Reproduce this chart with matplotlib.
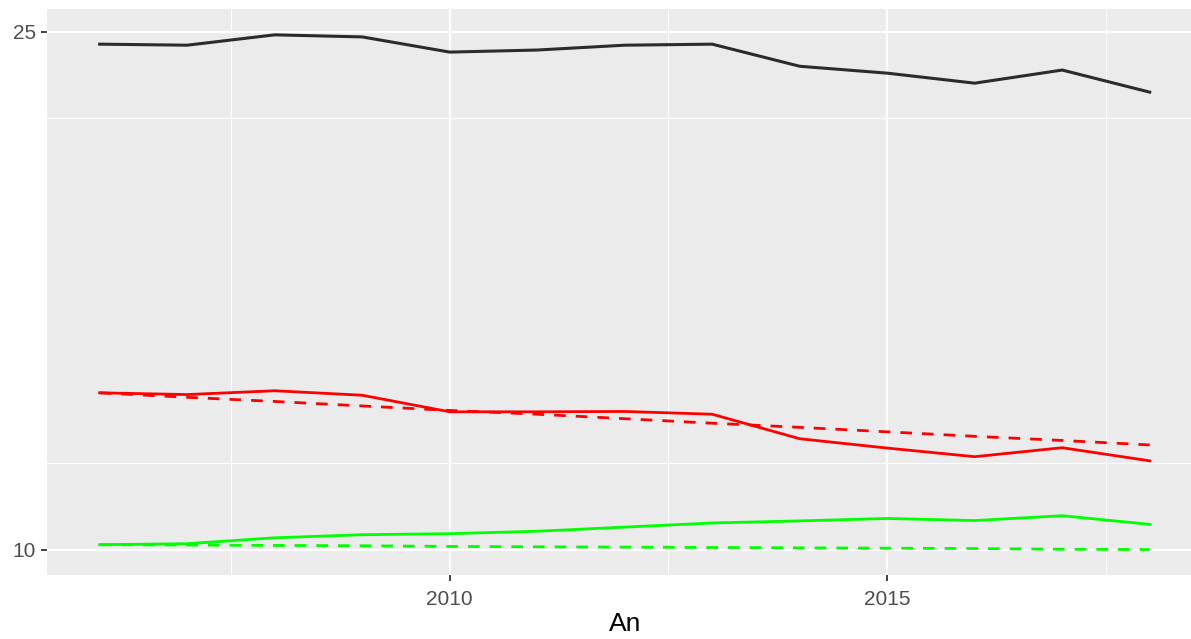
import matplotlib.pyplot as plt

# données
annees = list(range(2006, 2019))
noir = [24.64, 24.61, 24.91, 24.85, 24.41, 24.47, 24.61, 24.64, 24.00, 23.80, 23.51, 23.89, 23.25]
rouge = [14.54, 14.49, 14.60, 14.47, 13.99, 13.99, 14.00, 13.92, 13.21, 12.94, 12.69, 12.95, 12.57]
rouge_tendance = [14.54, 14.41, 14.29, 14.16, 14.03, 13.92, 13.79, 13.66, 13.54, 13.41, 13.28, 13.16, 13.03]
vert = [10.14, 10.17, 10.34, 10.43, 10.46, 10.53, 10.65, 10.77, 10.83, 10.90, 10.84, 10.98, 10.73]
vert_tendance = [10.14, 10.13, 10.12, 10.11, 10.09, 10.08, 10.07, 10.06, 10.05, 10.04, 10.03, 10.01, 10.00]

x_ticks = [2010, 2015]
x_minor = [2007.5, 2012.5, 2017.5]
y_ticks = [10, 25]
y_minor = [12.5, 22.5]

plt.rcParams['font.family'] = ['Liberation Sans', 'DejaVu Sans']

fig = plt.figure(figsize=(11.91, 6.39), dpi=100)
ax = fig.add_axes([0.0396, 0.100, 0.9698, 0.886])
ax.set_facecolor('#EBEBEB')
for s in ax.spines.values():
    s.set_visible(False)

# grille façon ggplot
for v in x_minor:
    ax.axvline(v, color='white', lw=0.8, zorder=0)
for v in y_minor:
    ax.axhline(v, color='white', lw=0.8, zorder=0)
for v in x_ticks:
    ax.axvline(v, color='white', lw=1.6, zorder=0)
for v in y_ticks:
    ax.axhline(v, color='white', lw=1.6, zorder=0)

ax.plot(annees, noir, color='#2b2b2b', lw=2.2)
ax.plot(annees, rouge, color='#FF0000', lw=2.0)
ax.plot(annees, rouge_tendance, color='#FF0000', lw=2.0, ls=(0, (4.2, 3.6)))
ax.plot(annees, vert, color='#00FF00', lw=2.0)
ax.plot(annees, vert_tendance, color='#00FF00', lw=2.0, ls=(0, (4.2, 3.6)))

ax.set_xlim(2005.4, 2018.6)
ax.set_ylim(9.26, 25.66)
ax.set_xticks(x_ticks)
ax.set_yticks(y_ticks)
ax.tick_params(colors='#333333', length=4, width=1.3, labelsize=15, labelcolor='#4D4D4D')
ax.tick_params(axis='x', pad=7)
ax.tick_params(axis='y', pad=4)
ax.set_xlabel('An', fontsize=19, labelpad=2)

fig.savefig('out.png', dpi=100)
